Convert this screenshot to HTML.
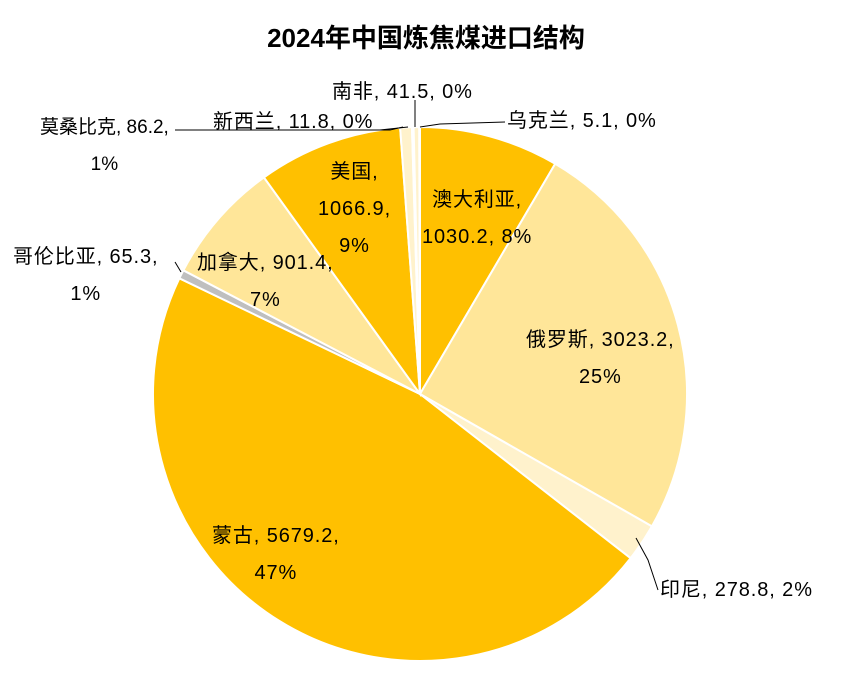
<!DOCTYPE html><html><head><meta charset="utf-8"><style>
body{margin:0;background:#fff;width:852px;height:690px;overflow:hidden;position:relative;font-family:"Liberation Sans","Noto Sans CJK SC",sans-serif}
.t{position:absolute;font-size:20px;letter-spacing:0.9px;color:#000;line-height:37px;text-align:center;white-space:nowrap}
h1{position:absolute;top:18px;left:0;width:852px;text-align:center;margin:0;font-size:26px;font-weight:bold}
</style></head><body>
<h1>2024年中国炼焦煤进口结构</h1>
<svg id="s" width="852" height="690" style="position:absolute;left:0;top:0"></svg>
<div class="t" style="left:422px;top:182px">澳大利亚,<br>1030.2, 8%</div>
<div class="t" style="left:526px;top:322px">俄罗斯, 3023.2,<br>25%</div>
<div class="t" style="left:660px;top:572px">印尼, 278.8, 2%</div>
<div class="t" style="left:212px;top:518px">蒙古, 5679.2,<br>47%</div>
<div class="t" style="left:13px;top:239px">哥伦比亚, 65.3,<br>1%</div>
<div class="t" style="left:197px;top:245px">加拿大, 901.4,<br>7%</div>
<div class="t" style="left:318px;top:154px">美国,<br>1066.9,<br>9%</div>
<div class="t" style="left:40px;top:109px;font-size:19px;letter-spacing:0">莫桑比克, 86.2,<br>1%</div>
<div class="t" style="left:213px;top:104px">新西兰, 11.8, 0%</div>
<div class="t" style="left:332px;top:74px">南非, 41.5, 0%</div>
<div class="t" style="left:507px;top:103px">乌克兰, 5.1, 0%</div>
<script>
var d=[[1030.2,'#FFC000'],[3023.2,'#FFE699'],[278.8,'#FFF2CC'],[5679.2,'#FFC000'],[65.3,'#BFBFBF'],[901.4,'#FFE699'],[1066.9,'#FFC000'],[86.2,'#FFF2CC'],[11.8,'#ED7D31'],[41.5,'#FFF2CC'],[5.1,'#8FAADC']];
var T=0;d.forEach(function(x){T+=x[0]});var cx=420,cy=394,r=267,a=0,h='';
d.forEach(function(x){var b=a+x[0]/T*2*Math.PI;
var x1=cx+r*Math.sin(a),y1=cy-r*Math.cos(a),x2=cx+r*Math.sin(b),y2=cy-r*Math.cos(b);
h+='<path d="M'+cx+' '+cy+'L'+x1+' '+y1+'A'+r+' '+r+' 0 '+((b-a)>Math.PI?1:0)+' 1 '+x2+' '+y2+'Z" fill="'+x[1]+'" stroke="#fff" stroke-width="2"/>';a=b;});
h+='<g stroke="#000" stroke-width="1" fill="none"><polyline points="415,127 415,100"/><polyline points="420,127 440,124 505,122"/><polyline points="408,127 380,130 308,130"/><polyline points="403,127 390,130 175,130"/><polyline points="181,272 175,262"/><polyline points="636,538 648,560 658,590"/></g>';
document.getElementById('s').innerHTML=h;
</script>
</body></html>
